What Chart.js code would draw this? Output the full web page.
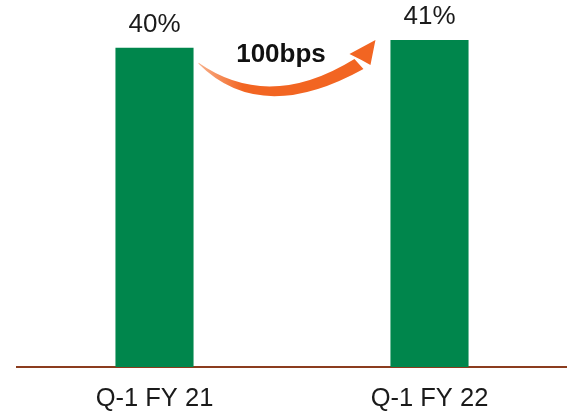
<!DOCTYPE html>
<html>
<head>
<meta charset="utf-8">
<script src="https://cdn.jsdelivr.net/npm/chart.js@4/dist/chart.umd.min.js"></script>
<style>
  html, body { margin: 0; padding: 0; background: #fff; }
  #wrap { width: 567px; height: 413px; position: relative; }
</style>
</head>
<body>
<div id="wrap"><canvas id="chart"></canvas></div>
<script>
const quarters = ['Q-1 FY 21', 'Q-1 FY 22'];
const margins = [40, 41];
const changeLabel = '100bps';

const green = '#00864C';
const brown = '#8B3C1E';
const orange = '#F26522';
const fontFamily = '"Liberation Sans", Arial, sans-serif';

// value labels above each bar
const valueLabels = {
    id: 'valueLabels',
    afterDatasetsDraw(chart) {
        const ctx = chart.ctx;
        const meta = chart.getDatasetMeta(0);
        ctx.save();
        ctx.font = '26px ' + fontFamily;
        ctx.fillStyle = '#1a1a1a';
        ctx.textAlign = 'center';
        ctx.textBaseline = 'alphabetic';
        meta.data.forEach((bar, i) => {
            ctx.fillText(margins[i] + '%', bar.x, bar.y - 16);
        });
        ctx.restore();
    }
};

// curved arrow between the two bars
const changeArrow = {
    id: 'changeArrow',
    afterDatasetsDraw(chart) {
        const ctx = chart.ctx;
        const [a, b] = chart.getDatasetMeta(0).data;
        const left = a.x + a.width / 2 + 5;
        const tipX = b.x - b.width / 2 - 15;
        const y0 = a.y + 15;
        const tipY = b.y;

        ctx.save();
        const grad = ctx.createLinearGradient(left, 0, tipX, 0);
        grad.addColorStop(0, '#F8B08A');
        grad.addColorStop(0.25, orange);
        grad.addColorStop(1, orange);
        ctx.fillStyle = grad;

        // shaft
        ctx.beginPath();
        ctx.moveTo(left, y0);
        ctx.quadraticCurveTo(left + 70, y0 + 49, tipX - 21, tipY + 19);
        ctx.lineTo(tipX - 12, tipY + 29);
        ctx.quadraticCurveTo(left + 62, y0 + 63, left, y0 + 1);
        ctx.closePath();
        ctx.fill();

        // head
        ctx.fillStyle = orange;
        ctx.beginPath();
        ctx.moveTo(tipX - 26, tipY + 14);
        ctx.lineTo(tipX, tipY);
        ctx.lineTo(tipX - 5, tipY + 25);
        ctx.lineTo(tipX - 14, tipY + 20);
        ctx.closePath();
        ctx.fill();

        ctx.font = 'bold 26px ' + fontFamily;
        ctx.fillStyle = '#111';
        ctx.textAlign = 'center';
        ctx.textBaseline = 'alphabetic';
        ctx.fillText(changeLabel, (a.x + b.x) / 2 - 11, y0 - 1);
        ctx.restore();
    }
};

new Chart(document.getElementById('chart'), {
    type: 'bar',
    data: {
        labels: quarters,
        datasets: [{
            data: margins,
            backgroundColor: green,
            borderWidth: 0,
            barPercentage: 0.284,
            categoryPercentage: 1
        }]
    },
    options: {
        responsive: true,
        maintainAspectRatio: false,
        animation: false,
        layout: { padding: { left: 17, right: 0, top: 0, bottom: 0 } },
        plugins: {
            legend: { display: false },
            tooltip: { enabled: false }
        },
        scales: {
            y: {
                display: false,
                min: 0,
                max: 46
            },
            x: {
                afterFit(scale) { scale.height = 46; },
                grid: { display: false, drawTicks: false },
                border: { display: true, color: brown, width: 2 },
                ticks: {
                    color: '#1a1a1a',
                    padding: 17,
                    font: { size: 25.5, family: fontFamily }
                }
            }
        }
    },
    plugins: [valueLabels, changeArrow]
});
</script>
</body>
</html>
